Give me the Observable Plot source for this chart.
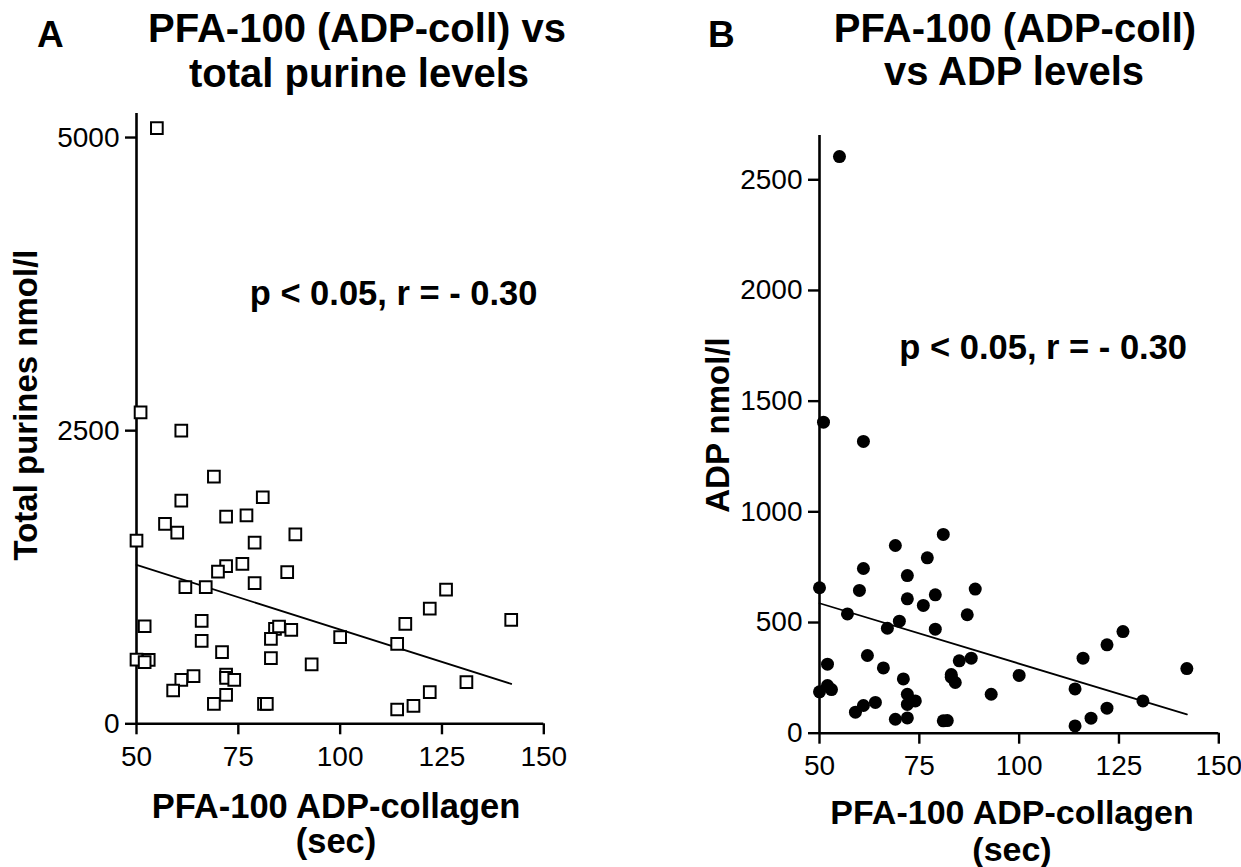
<!DOCTYPE html>
<html><head><meta charset="utf-8">
<script src="https://cdn.jsdelivr.net/npm/d3@7"></script>
<script src="https://cdn.jsdelivr.net/npm/@observablehq/plot@0.6"></script>
<style>
body{margin:0;background:#fff;}
#wrap{position:relative;width:1241px;height:867px;font-family:"Liberation Sans",Arial,Helvetica,sans-serif;color:#000;overflow:hidden;}
.t{position:absolute;white-space:nowrap;font-weight:bold;line-height:1;}
#wrap svg{position:absolute;top:0;}
</style></head><body><div id="wrap"></div>
<script>
// Panel A: PFA-100 ADP-collagen (sec) vs total purines (nmol/l)
const pfaA = [51,61,69,61,81,72,77,57,60,50,89,79,72,70,76,87,79,62,67,126,122,116,142,52,66,84,85,88,83,100,114,66,71,83,50,53,52,93,64,61,72,72,74,59,72,69,81.3,82,131,122,118,114,55];
const purinesA = [2656,2500,2108,1903,1932,1767,1778,1705,1631,1562,1616,1545,1344,1298,1364,1293,1199,1165,1165,1145,983,852,886,832,878,810,830,801,724,739,682,707,611,560,548,545,526,506,406,375,420,392,375,284,247,170,170,170,355,270,153,122,5080];
// Panel B: PFA-100 ADP-collagen (sec) vs ADP (nmol/l)
const pfaB = [51,61,81,69,77,61,72,50,60,89,79,72,76,57,87,70,67,79,126,122,116,62,52,85,88,66,142,71,83,83,84,100,114,50,52,53,72,74,72,93,131,64,61,59,122,69,72,81,82,118,114,55];
const adpB = [1405,1318,898,848,792,744,712,657,645,651,625,607,577,539,535,506,474,470,459,399,339,351,312,327,339,295,292,245,265,253,229,261,200,187,215,197,176,146,130,176,146,139,125,95,113,63,69,56,57,68,33,2605];
// regression lines (x = start/end, y = fitted values)
const trendX = [50, 142];
const trendA = [1355, 340];
const trendB = [587, 85];
// ticks
const xTicks = [50, 75, 100, 125, 150];
const yTicksA = [0, 2500, 5000];
const yTicksB = [0, 500, 1000, 1500, 2000, 2500];
const statText = "p < 0.05, r = - 0.30";

const wrap = document.getElementById("wrap");
const dataA = pfaA.map((x, i) => ({x, y: purinesA[i]}));
const dataB = pfaB.map((x, i) => ({x, y: adpB[i]}));
const lineA = trendX.map((x, i) => ({x, y: trendA[i]}));
const lineB = trendX.map((x, i) => ({x, y: trendB[i]}));
const FONT = "'Liberation Sans', Arial, Helvetica, sans-serif";
const fmt = d3.format("d");

function panel({data, line, yTicks, yMax, width, ml, mr, mt, mb, square, annot}) {
  return Plot.plot({
    width, height: 867,
    marginLeft: ml, marginRight: mr, marginTop: mt, marginBottom: mb,
    style: {fontFamily: FONT, background: "transparent", color: "#000", overflow: "visible"},
    x: {domain: [50, 150], axis: null},
    y: {domain: [0, yMax], axis: null},
    marks: [
      Plot.axisX({ticks: xTicks, tickFormat: fmt, label: null, tickSize: 11, tickPadding: 11, fontSize: 28, strokeWidth: 2.4, stroke: "#000", fill: "#000"}),
      Plot.axisY({ticks: yTicks, tickFormat: fmt, label: null, tickSize: 11, tickPadding: 6, fontSize: 28, strokeWidth: 2.4, stroke: "#000", fill: "#000"}),
      Plot.ruleX([50], {stroke: "#000", strokeWidth: 2.6}),
      Plot.ruleY([0], {stroke: "#000", strokeWidth: 2.6}),
      Plot.line(line, {x: "x", y: "y", stroke: "#000", strokeWidth: 1.8}),
      square
        ? Plot.dot(data, {x: "x", y: "y", symbol: "square", r: 6.6, stroke: "#000", strokeWidth: 2, fill: "#fff"})
        : Plot.dot(data, {x: "x", y: "y", r: 6.5, fill: "#000", stroke: "none"}),
      Plot.text([statText], {x: annot[0], y: annot[1], text: d => d, textAnchor: "start", fontSize: 34.5, fontWeight: "bold", fill: "#000"})
    ]
  });
}

const svgA = panel({data: dataA, line: lineA, yTicks: yTicksA, yMax: 5205, width: 620, ml: 136, mr: 76.7, mt: 113, mb: 143.7, square: true, annot: [77.8, 3670]});
svgA.style.left = "0px";
wrap.appendChild(svgA);
const svgB = panel({data: dataB, line: lineB, yTicks: yTicksB, yMax: 2700, width: 621, ml: 199, mr: 22.7, mt: 135, mb: 134.3, square: false, annot: [70.0, 1739]});
svgB.style.left = "620px";
wrap.appendChild(svgB);

// text helpers: position by baseline
function addText(str, fs, opts) {
  const d = document.createElement("div");
  d.className = "t";
  d.textContent = str;
  d.style.fontSize = fs + "px";
  if (opts.rotate) {
    d.style.left = (opts.baselineX - 0.3465 * fs) + "px";
    d.style.top = opts.cy + "px";
    d.style.transform = "translate(-50%,-50%) rotate(-90deg)";
  } else {
    d.style.top = (opts.baseline - 0.8465 * fs) + "px";
    if (opts.cx !== undefined) { d.style.left = opts.cx + "px"; d.style.transform = "translateX(-50%)"; }
    else d.style.left = opts.left + "px";
  }
  wrap.appendChild(d);
}
addText("A", 37, {left: 37, baseline: 47});
addText("PFA-100 (ADP-coll) vs", 40, {cx: 357, baseline: 42});
addText("total purine levels", 40, {cx: 359, baseline: 86.5});
addText("B", 37, {left: 708, baseline: 47});
addText("PFA-100 (ADP-coll)", 40, {cx: 1015, baseline: 42});
addText("vs ADP levels", 40, {cx: 1014, baseline: 85});
addText("Total purines nmol/l", 33, {rotate: true, baselineX: 36, cy: 405});
addText("ADP nmol/l", 33, {rotate: true, baselineX: 728, cy: 425});
addText("PFA-100 ADP-collagen", 34.5, {cx: 336, baseline: 818});
addText("(sec)", 34.5, {cx: 336, baseline: 853});
addText("PFA-100 ADP-collagen", 34, {cx: 1012, baseline: 824});
addText("(sec)", 34, {cx: 1012, baseline: 861});
</script>
</body></html>
